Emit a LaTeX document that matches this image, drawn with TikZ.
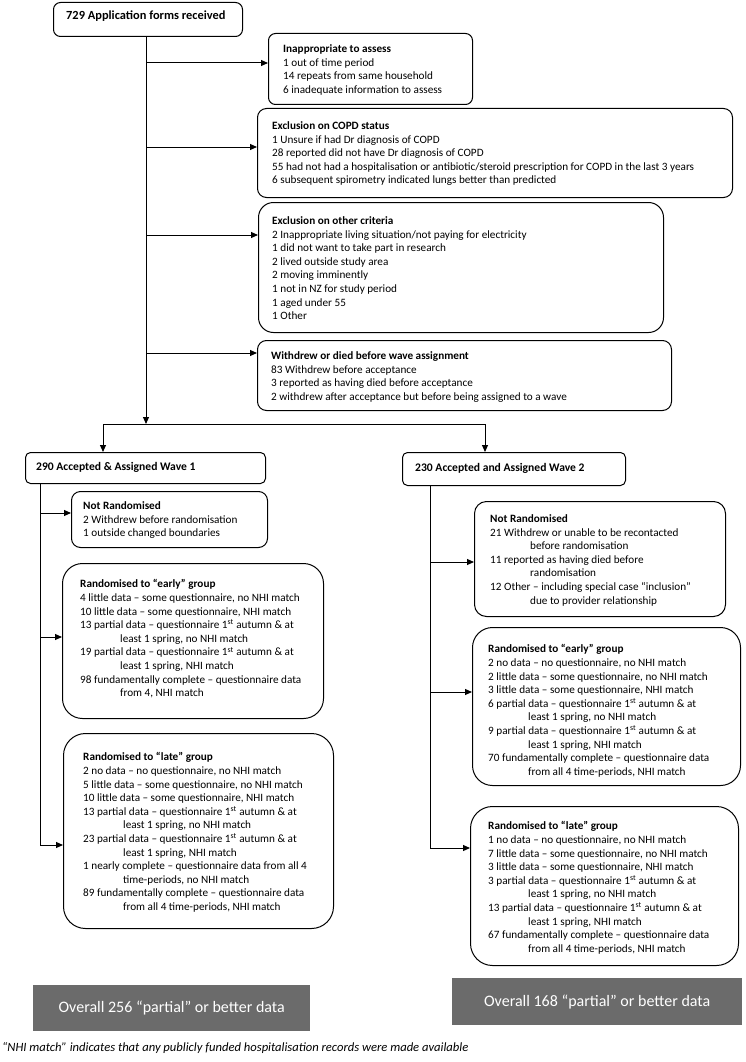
\documentclass[tikz,border=0pt]{standalone}
\usepackage{fontspec}
\setmainfont{Carlito}
\usetikzlibrary{arrows.meta}
\definecolor{boxgray}{HTML}{6B6B6B}
\begin{document}
\begin{tikzpicture}[x=1pt,y=-1pt,
  box/.style={draw, line width=1pt, rounded corners=7pt, anchor=north west, inner sep=0pt},
  bigbox/.style={box, rounded corners=20pt},
  txt/.style={anchor=north west, inner sep=0pt, align=left, font=\fontsize{11.2}{13.6}\selectfont},
  ttl/.style={anchor=west, inner sep=0pt, font=\fontsize{12.4}{14}\selectfont\bfseries},
  wtl/.style={anchor=west, inner sep=0pt, font=\fontsize{11.6}{14}\selectfont\bfseries},
  arr/.style={line width=1pt, -{Triangle[length=7pt,width=6pt]}},
  ln/.style={line width=1pt},
  graybox/.style={fill=boxgray, anchor=north west, inner sep=0pt},
  graytxt/.style={text=white, font=\fontsize{16}{18}\selectfont}]
\useasboundingbox (0,0) rectangle (745,1062);

% top box
\node[box, minimum width=189pt, minimum height=34pt] (A) at (53,2) {};
\node[ttl] (At) at (66,16) {729 Application forms received};

% exclusion boxes
\node[box, minimum width=204pt, minimum height=71pt] (B1) at (268,33) {};
\node[txt] (B1t) at (283,44.5) {\textbf{Inappropriate to assess}\\
1 out of time period\\
14 repeats from same household\\
6 inadequate information to assess};

\node[box, minimum width=475pt, minimum height=89pt, rounded corners=9pt] (B2) at (257,108) {};
\node[txt] (B2t) at (272,121.5) {\textbf{Exclusion on COPD status}\\
1 Unsure if had Dr diagnosis of COPD\\
28 reported did not have Dr diagnosis of COPD\\
55 had not had a hospitalisation or antibiotic/steroid prescription for COPD in the last 3 years\\
6 subsequent spirometry indicated lungs better than predicted};

\node[box, minimum width=405pt, minimum height=130pt, rounded corners=15pt] (B3) at (258,202) {};
\node[txt] (B3t) at (272,216.5) {\textbf{Exclusion on other criteria}\\
2 Inappropriate living situation/not paying for electricity\\
1 did not want to take part in research\\
2 lived outside study area\\
2 moving imminently\\
1 not in NZ for study period\\
1 aged under 55\\
1 Other};

\node[box, minimum width=414pt, minimum height=70pt, rounded corners=9pt] (B4) at (257,340) {};
\node[txt] (B4t) at (271,351.5) {\textbf{Withdrew or died before wave assignment}\\
83 Withdrew before acceptance\\
3 reported as having died before acceptance\\
2 withdrew after acceptance but before being assigned to a wave};

% spine
\coordinate (s1) at (146,63);
\coordinate (s2) at (146,147);
\coordinate (s3) at (146,235);
\coordinate (s4) at (146,353);
\coordinate (split) at (146,424);
\coordinate (spL) at (103,424);
\coordinate (spR) at (485,424);
\draw[arr] (A.south -| split) -- (split);
\draw[arr] (s1) -- (s1 -| B1.west);
\draw[arr] (s2) -- (s2 -| B2.west);
\draw[arr] (s3) -- (s3 -| B3.west);
\draw[arr] (s4) -- (s4 -| B4.west);

% wave boxes
\node[box, minimum width=240pt, minimum height=31pt, rounded corners=5pt] (W1) at (25,452) {};
\node[wtl] (W1t) at (36,467.5) {290 Accepted \& Assigned Wave 1};
\node[box, minimum width=223pt, minimum height=33pt, rounded corners=5pt] (W2) at (402,452) {};
\node[wtl] (W2t) at (415,468.5) {230 Accepted and Assigned Wave 2};

\draw[ln] (spL) -- (spR);
\draw[arr] (spL) -- (spL |- W1.north);
\draw[arr] (spR) -- (spR |- W2.north);

% wave 1 column
\node[box, minimum width=196pt, minimum height=56pt, rounded corners=9pt] (L1) at (71,491) {};
\node[txt] (L1t) at (83,501.5) {\textbf{Not Randomised}\\
2 Withdrew before randomisation\\
1 outside changed boundaries};

\node[bigbox, minimum width=261pt, minimum height=155pt] (L2) at (62,563) {};
\node[txt] (L2t) at (80,579.5) {\textbf{Randomised to “early” group}\\
4 little data – some questionnaire, no NHI match\\
10 little data – some questionnaire, NHI match\\
13 partial data – questionnaire 1\textsuperscript{st} autumn \& at\\
\hspace*{40pt}least 1 spring, no NHI match\\
19 partial data – questionnaire 1\textsuperscript{st} autumn \& at\\
\hspace*{40pt}least 1 spring, NHI match\\
98 fundamentally complete – questionnaire data\\
\hspace*{40pt}from 4, NHI match};

\node[bigbox, minimum width=270pt, minimum height=195pt, rounded corners=22pt] (L3) at (63,733) {};
\node[txt] (L3t) at (83,752.5) {\textbf{Randomised to “late” group}\\
2 no data – no questionnaire, no NHI match\\
5 little data – some questionnaire, no NHI match\\
10 little data – some questionnaire, NHI match\\
13 partial data – questionnaire 1\textsuperscript{st} autumn \& at\\
\hspace*{40pt}least 1 spring, no NHI match\\
23 partial data – questionnaire 1\textsuperscript{st} autumn \& at\\
\hspace*{40pt}least 1 spring, NHI match\\
1 nearly complete – questionnaire data from all 4\\
\hspace*{40pt}time-periods, no NHI match\\
89 fundamentally complete – questionnaire data\\
\hspace*{40pt}from all 4 time-periods, NHI match};

\coordinate (l1) at (40,513);
\coordinate (l2) at (40,637);
\coordinate (l3) at (40,845);
\draw[ln] (W1.south -| l1) -- (l3);
\draw[arr] (l1) -- (l1 -| L1.west);
\draw[arr] (l2) -- (l2 -| L2.west);
\draw[arr] (l3) -- (l3 -| L3.west);

% wave 2 column
\node[box, minimum width=251pt, minimum height=115pt, rounded corners=12pt] (R1) at (474,501) {};
\node[txt] (R1t) at (490,514.5) {\textbf{Not Randomised}\\
21 Withdrew or unable to be recontacted\\
\hspace*{40pt}before randomisation\\
11 reported as having died before\\
\hspace*{40pt}randomisation\\
12 Other – including special case “inclusion”\\
\hspace*{40pt}due to provider relationship};

\node[bigbox, minimum width=268pt, minimum height=158pt] (R2) at (472,627) {};
\node[txt] (R2t) at (488,644.5) {\textbf{Randomised to “early” group}\\
2 no data – no questionnaire, no NHI match\\
2 little data – some questionnaire, no NHI match\\
3 little data – some questionnaire, NHI match\\
6 partial data – questionnaire 1\textsuperscript{st} autumn \& at\\
\hspace*{40pt}least 1 spring, no NHI match\\
9 partial data – questionnaire 1\textsuperscript{st} autumn \& at\\
\hspace*{40pt}least 1 spring, NHI match\\
70 fundamentally complete – questionnaire data\\
\hspace*{40pt}from all 4 time-periods, NHI match};

\node[bigbox, minimum width=268pt, minimum height=159pt, rounded corners=22pt] (R3) at (470,806) {};
\node[txt] (R3t) at (488,821.5) {\textbf{Randomised to “late” group}\\
1 no data – no questionnaire, no NHI match\\
7 little data – some questionnaire, no NHI match\\
3 little data – some questionnaire, NHI match\\
3 partial data – questionnaire 1\textsuperscript{st} autumn \& at\\
\hspace*{40pt}least 1 spring, no NHI match\\
13 partial data – questionnaire 1\textsuperscript{st} autumn \& at\\
\hspace*{40pt}least 1 spring, NHI match\\
67 fundamentally complete – questionnaire data\\
\hspace*{40pt}from all 4 time-periods, NHI match};

\coordinate (r1) at (430,562);
\coordinate (r2) at (430,692);
\coordinate (r3) at (430,848);
\draw[ln] (W2.south -| r1) -- (r3);
\draw[arr] (r1) -- (r1 -| R1.west);
\draw[arr] (r2) -- (r2 -| R2.west);
\draw[arr] (r3) -- (r3 -| R3.west);

% summary boxes
\node[graybox, minimum width=277pt, minimum height=46pt] (G1) at (33,985) {};
\node[graytxt] (G1t) at (G1.center) {Overall 256 “partial” or better data};
\node[graybox, minimum width=290pt, minimum height=47pt] (G2) at (452,978) {};
\node[graytxt] (G2t) at (G2.center) {Overall 168 “partial” or better data};

% footnote
\node[anchor=west, inner sep=0pt, font=\fontsize{12.6}{14}\selectfont\itshape] (fn) at (2,1048) {“NHI match” indicates that any publicly funded hospitalisation records were made available};
\end{tikzpicture}
\end{document}
